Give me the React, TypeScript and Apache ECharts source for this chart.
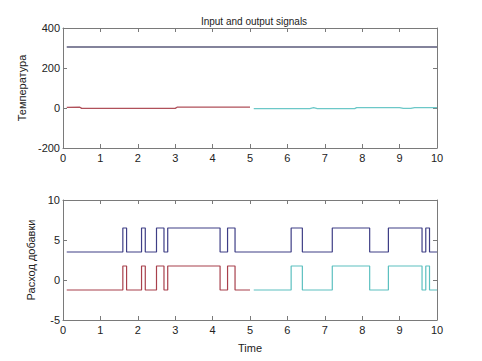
import React, { useEffect, useRef } from "react";
import * as echarts from "echarts";

const titleText = "Input and output signals";
const topYName = "Температура";
const bottomYName = "Расход добавки";
const xName = "Time";

// Top panel: setpoint and temperature signals
const setpointLine: [number, number][] = [[0.1, 305], [10, 305]];
const tempPart1: [number, number][] = [
  [0.1, 3], [0.45, 4], [0.5, -2], [1.5, -2], [2.5, -2], [3.0, -2], [3.05, 4], [4.0, 4], [5.0, 4],
];
const tempPart2: [number, number][] = [
  [5.1, -3], [6.0, -3], [6.6, -3], [6.7, 2], [6.8, -3], [7.5, -3], [7.8, -3], [7.85, 2],
  [8.5, 2], [9.0, 2], [9.1, -2], [9.3, -2], [9.4, 2], [10, 2],
];

// Bottom panel: switching control signals (value holds until next time)
const switchTimes = [0.1, 1.6, 1.7, 2.1, 2.2, 2.5, 2.7, 2.8, 4.2, 4.4, 4.6, 6.1, 6.4, 7.2, 8.2, 8.7, 9.6, 9.7, 9.8, 10];
const switchHigh = [0, 1, 0, 1, 0, 1, 0, 1, 0, 1, 0, 1, 0, 1, 0, 1, 0, 1, 0, 0];
const blueLow = 3.5;
const blueHigh = 6.5;
const redLow = -1.25;
const redHigh = 1.75;
const splitTime = 5.0;
const cyanStart = 5.1;

const xTicks = { min: 0, max: 10, interval: 1 };
const topY = { min: -200, max: 400, interval: 200 };
const bottomY = { min: -5, max: 10, interval: 5 };

export default function App() {
  const ref = useRef<HTMLDivElement>(null);
  useEffect(() => {
    if (!ref.current) return;
    const chart = echarts.init(ref.current, undefined, { renderer: "svg" });

    const blueData = switchTimes.map((t, i) => [t, switchHigh[i] ? blueHigh : blueLow]);
    const redFull = switchTimes.map((t, i) => [t, switchHigh[i] ? redHigh : redLow]);
    const levelAt = (x: number) => {
      let v = redLow;
      for (let i = 0; i < switchTimes.length; i++) if (switchTimes[i] <= x) v = redFull[i][1];
      return v;
    };
    const redData = redFull.filter((p) => p[0] < splitTime).concat([[splitTime, levelAt(splitTime)]]);
    const cyanData = [[cyanStart, levelAt(cyanStart)]].concat(redFull.filter((p) => p[0] > cyanStart));

    const font = "'Liberation Sans', Arial, sans-serif";
    const axisColor = "#7a7a7a";
    const textColor = "#222";
    const baseX = (grid: number, pos: "bottom" | "top", labels: boolean, name?: string) => ({
      type: "value",
      gridIndex: grid,
      position: pos,
      ...xTicks,
      name: name,
      nameLocation: "middle",
      nameGap: 22,
      nameTextStyle: { color: textColor, fontSize: 11, fontFamily: font },
      axisLine: { show: true, onZero: false, lineStyle: { color: axisColor, width: 1 } },
      axisTick: { show: true, inside: true, length: 4, lineStyle: { color: axisColor } },
      axisLabel: { show: labels, color: textColor, fontSize: 11, fontFamily: font, margin: 4 },
      splitLine: { show: false },
    });
    const baseY = (grid: number, pos: "left" | "right", labels: boolean, range: any, name?: string, gap = 30) => ({
      type: "value",
      gridIndex: grid,
      position: pos,
      ...range,
      name: name,
      nameLocation: "middle",
      nameGap: gap,
      nameTextStyle: { color: textColor, fontSize: 11, fontFamily: font },
      axisLine: { show: true, onZero: false, lineStyle: { color: axisColor, width: 1 } },
      axisTick: { show: true, inside: true, length: 4, lineStyle: { color: axisColor } },
      axisLabel: { show: labels, color: textColor, fontSize: 11, fontFamily: font, margin: 3 },
      splitLine: { show: false },
    });

    const lineSeries = (data: any, color: string, xi: number, yi: number, step?: string, width = 1.2) => ({
      type: "line",
      xAxisIndex: xi,
      yAxisIndex: yi,
      data,
      step: step || false,
      symbol: "none",
      silent: true,
      lineStyle: { color, width },
    });

    chart.setOption({
      animation: false,
      backgroundColor: "#ffffff",
      title: {
        text: titleText,
        left: 249,
        textAlign: "center",
        top: 11,
        textStyle: { fontSize: 10, fontWeight: "normal", color: textColor, fontFamily: font },
      },
      grid: [
        { left: 63, top: 28, width: 374, height: 120 },
        { left: 63, top: 200, width: 374, height: 120 },
      ],
      xAxis: [
        baseX(0, "bottom", true),
        baseX(0, "top", false),
        baseX(1, "bottom", true, xName),
        baseX(1, "top", false),
      ],
      yAxis: [
        baseY(0, "left", true, topY, topYName, 31),
        baseY(0, "right", false, topY),
        baseY(1, "left", true, bottomY, bottomYName, 19),
        baseY(1, "right", false, bottomY),
      ],
      series: [
        lineSeries(setpointLine, "#5a5a7a", 0, 0, undefined, 1.6),
        lineSeries(tempPart1, "#b0505a", 0, 0, undefined, 1.3),
        lineSeries(tempPart2, "#6cc8c8", 0, 0, undefined, 1.3),
        lineSeries(blueData, "#3e3e86", 2, 2, "end"),
        lineSeries(redData, "#a8404c", 2, 2, "end"),
        lineSeries(cyanData, "#5cc0c0", 2, 2, "end"),
      ],
    });
    return () => chart.dispose();
  }, []);
  return <div ref={ref} style={{ width: 482, height: 361, position: "absolute", left: 0, top: 0 }} />;
}
